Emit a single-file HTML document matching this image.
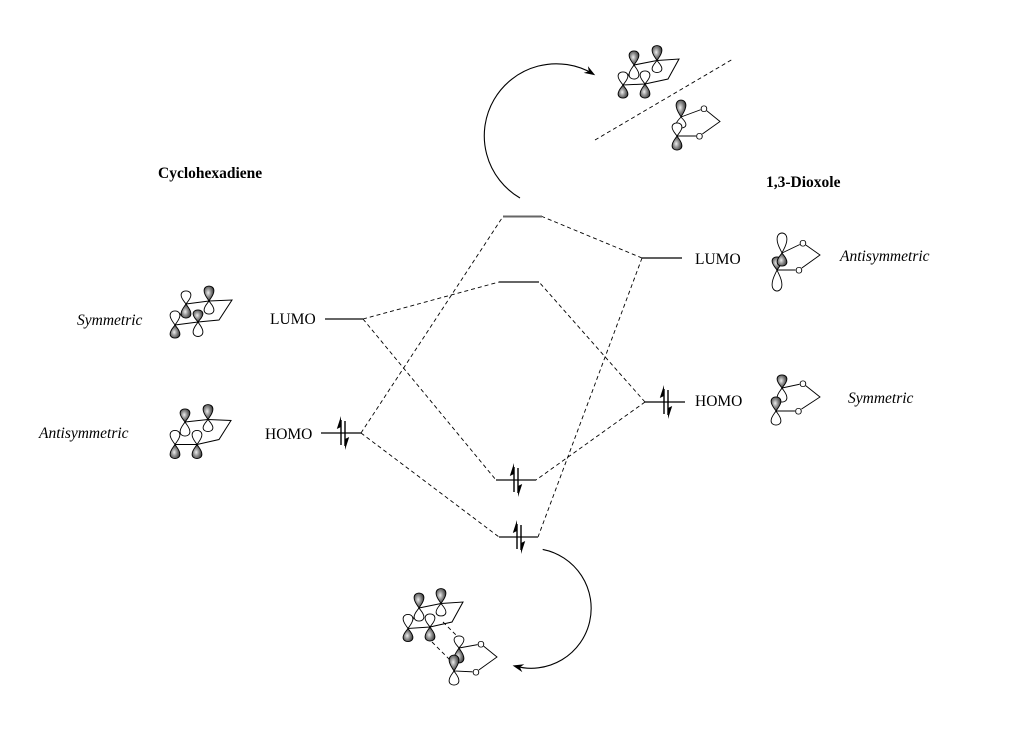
<!DOCTYPE html>
<html><head><meta charset="utf-8"><style>
html,body{margin:0;padding:0;background:#fff;}
svg{display:block;}
text{font-family:"Liberation Serif",serif;fill:#000;}
.b{font-weight:bold;font-size:15.5px;}
.i{font-style:italic;font-size:15.5px;}
.n{font-size:15.5px;}
.o{font-size:9.5px;font-family:"Liberation Sans",sans-serif;}
</style></head><body>
<svg width="1010" height="744" viewBox="0 0 1010 744" xmlns="http://www.w3.org/2000/svg">
<defs>
<radialGradient id="g" cx="0.42" cy="0.45" r="0.65">
<stop offset="0" stop-color="#eeeeee"/>
<stop offset="0.45" stop-color="#8a8a8a"/>
<stop offset="1" stop-color="#262626"/>
</radialGradient>
<path id="L" vector-effect="non-scaling-stroke" d="M0,0 C-1.8,-3 -4.9,-6 -4.9,-10 C-4.9,-12.9 -2.7,-14.5 0,-14.5 C2.7,-14.5 4.9,-12.9 4.9,-10 C4.9,-6 1.8,-3 0,0Z"/>
</defs>

<!-- Text labels -->
<text class="b" x="158" y="178">Cyclohexadiene</text>
<text class="b" x="766" y="187">1,3-Dioxole</text>
<text class="i" x="77" y="325">Symmetric</text>
<text class="i" x="39" y="438">Antisymmetric</text>
<text class="n" x="270" y="324">LUMO</text>
<text class="n" x="265" y="439">HOMO</text>
<text class="n" x="695" y="264">LUMO</text>
<text class="n" x="695" y="406">HOMO</text>
<text class="i" x="840" y="261">Antisymmetric</text>
<text class="i" x="848" y="403">Symmetric</text>

<!-- Dashed correlation lines -->
<g stroke="#000" stroke-width="0.9" stroke-dasharray="4,3" fill="none">
<line x1="363" y1="319" x2="499" y2="282"/>
<line x1="363" y1="319" x2="496" y2="480"/>
<line x1="361" y1="433" x2="503" y2="216.5"/>
<line x1="361" y1="433" x2="499" y2="537"/>
<line x1="642" y1="258" x2="542" y2="216.5"/>
<line x1="642" y1="258" x2="538" y2="537"/>
<line x1="645" y1="402" x2="539" y2="282"/>
<line x1="645" y1="402" x2="536" y2="480"/>
<line x1="595" y1="140" x2="733" y2="59"/>
<line x1="443" y1="622" x2="458" y2="637"/>
<line x1="432" y1="642" x2="452" y2="662"/>
</g>

<!-- Energy levels -->
<g stroke="#666" stroke-width="2">
<line x1="325" y1="319" x2="363" y2="319"/>
<line x1="503" y1="216.5" x2="542" y2="216.5"/>
<line x1="499" y1="282" x2="539" y2="282"/>
<line x1="496" y1="480" x2="536" y2="480"/>
<line x1="499" y1="537" x2="538" y2="537"/>
</g>
<g stroke="#000" stroke-width="1.3">
<line x1="321" y1="433" x2="361" y2="433"/>
<line x1="642" y1="258" x2="682" y2="258"/>
<line x1="645" y1="402" x2="685" y2="402"/>
</g>

<!-- Electron arrows -->
<g stroke="#000" stroke-width="1.4" fill="#000">
<line x1="341" y1="445" x2="341" y2="420"/><polygon stroke="none" points="341,416 336.8,429 341,427"/>
<line x1="345" y1="421" x2="345" y2="446"/><polygon stroke="none" points="345,450 349.2,437 345,439"/>

<line x1="664" y1="414" x2="664" y2="389"/><polygon stroke="none" points="664,385 659.8,398 664,396"/>
<line x1="668" y1="390" x2="668" y2="415"/><polygon stroke="none" points="668,419 672.2,406 668,408"/>

<line x1="514" y1="492" x2="514" y2="467"/><polygon stroke="none" points="514,463 509.8,476 514,474"/>
<line x1="518" y1="468" x2="518" y2="493"/><polygon stroke="none" points="518,497 522.2,484 518,486"/>

<line x1="517" y1="549" x2="517" y2="524"/><polygon stroke="none" points="517,520 512.8,533 517,531"/>
<line x1="521" y1="525" x2="521" y2="550"/><polygon stroke="none" points="521,554 525.2,541 521,543"/>
</g>

<!-- Curved arrows -->
<path d="M520,198 A72,72 0 1 1 592.6,73.6" fill="none" stroke="#000" stroke-width="1.1"/>
<polygon points="595.2,75.2 583.7,72.9 588.8,71.3 587.9,66.1" fill="#000"/>
<path d="M542.7,549.4 A60,60 0 1 1 515.5,666.2" fill="none" stroke="#000" stroke-width="1.1"/>
<polygon points="512.6,665.5 524.3,664.3 519.9,667.3 522.3,672.1" fill="#000"/>

<!-- Cyclohexadiene rings -->
<g stroke="#000" stroke-width="1" fill="none">
<polygon points="186,304 209,301 232,300 219,320 198,322 175,325"/>
<polygon points="185,422 208,419.5 231,420.5 219,439.5 197,444.5 175,444.5"/>
<polygon points="634,65 657,60.5 679,59 668,79 645,84 623,85"/>
<polygon points="419,608 441,603.5 463,602 452,622 430,627 408,628.5"/>
</g>

<!-- Dioxole bonds -->
<g stroke="#000" stroke-width="0.9" fill="none">
<polyline points="782,253 803,243 820,255 799,270 777,270 782,253"/>
<polyline points="782,388 803,383.5 820,397 798.5,411 776,411 782,388"/>
<polyline points="681,117 704,108.5 720,121.5 699.5,136 677,136 681,117"/>
<polyline points="459,648 481,644 497,657 476,672 454,671 459,648"/>
</g>

<!-- Orbital lobes -->
<g stroke="#000" stroke-width="0.9">
<!-- Symmetric cyclohexadiene -->
<use href="#L" fill="#fff" transform="translate(186,304) scale(1,0.9)"/>
<use href="#L" fill="url(#g)" transform="translate(186,304) scale(1,-0.97)"/>
<use href="#L" fill="url(#g)" transform="translate(209,301) scale(1,1.03)"/>
<use href="#L" fill="#fff" transform="translate(209,301) scale(1,-0.9)"/>
<use href="#L" fill="#fff" transform="translate(175,325) scale(1,0.97)"/>
<use href="#L" fill="url(#g)" transform="translate(175,325) scale(1,-0.9)"/>
<use href="#L" fill="url(#g)" transform="translate(198,322) scale(1,0.83)"/>
<use href="#L" fill="#fff" transform="translate(198,322) scale(1,-1)"/>

<!-- Antisymmetric cyclohexadiene -->
<use href="#L" fill="url(#g)" transform="translate(185,422) scale(1,0.9)"/>
<use href="#L" fill="#fff" transform="translate(185,422) scale(1,-0.97)"/>
<use href="#L" fill="url(#g)" transform="translate(208,419.5) scale(1,1.03)"/>
<use href="#L" fill="#fff" transform="translate(208,419.5) scale(1,-0.83)"/>
<use href="#L" fill="#fff" transform="translate(175,444.5) scale(1,0.97)"/>
<use href="#L" fill="url(#g)" transform="translate(175,444.5) scale(1,-0.97)"/>
<use href="#L" fill="#fff" transform="translate(197,444.5) scale(1,0.97)"/>
<use href="#L" fill="url(#g)" transform="translate(197,444.5) scale(1,-0.97)"/>

<!-- Top cyclohexadiene -->
<use href="#L" fill="url(#g)" transform="translate(634,65) scale(1,0.97)"/>
<use href="#L" fill="#fff" transform="translate(634,65) scale(1,-0.97)"/>
<use href="#L" fill="url(#g)" transform="translate(657,60.5) scale(1,1.03)"/>
<use href="#L" fill="#fff" transform="translate(657,60.5) scale(1,-0.83)"/>
<use href="#L" fill="#fff" transform="translate(623,85) scale(1,0.9)"/>
<use href="#L" fill="url(#g)" transform="translate(623,85) scale(1,-0.9)"/>
<use href="#L" fill="#fff" transform="translate(645,84) scale(1,0.9)"/>
<use href="#L" fill="url(#g)" transform="translate(645,84) scale(1,-0.97)"/>

<!-- Product cyclohexadiene -->
<use href="#L" fill="url(#g)" transform="translate(419,608) scale(1,1.03)"/>
<use href="#L" fill="#fff" transform="translate(419,608) scale(1,-0.9)"/>
<use href="#L" fill="url(#g)" transform="translate(441,603.5) scale(1,1.03)"/>
<use href="#L" fill="#fff" transform="translate(441,603.5) scale(1,-0.86)"/>
<use href="#L" fill="#fff" transform="translate(408,628.5) scale(1,0.97)"/>
<use href="#L" fill="url(#g)" transform="translate(408,628.5) scale(1,-0.9)"/>
<use href="#L" fill="#fff" transform="translate(430,627) scale(1,0.9)"/>
<use href="#L" fill="url(#g)" transform="translate(430,627) scale(1,-0.97)"/>

<!-- LUMO dioxole -->
<use href="#L" fill="#fff" transform="translate(782,253) scale(1,1.38)"/>
<use href="#L" fill="#fff" transform="translate(777,270) scale(1,-1.45)"/>
<use href="#L" fill="url(#g)" transform="translate(777,270) scale(1,0.9)"/>
<use href="#L" fill="url(#g)" transform="translate(782,253) scale(1,-0.9)"/>

<!-- HOMO dioxole -->
<use href="#L" fill="url(#g)" transform="translate(782,388) scale(1,0.9)"/>
<use href="#L" fill="#fff" transform="translate(782,388) scale(1,-0.97)"/>
<use href="#L" fill="#fff" transform="translate(776,411) scale(1,-0.97)"/>
<use href="#L" fill="url(#g)" transform="translate(776,411) scale(1,0.97)"/>

<!-- Top dioxole -->
<use href="#L" fill="url(#g)" transform="translate(681,117) scale(1,1.17)"/>
<use href="#L" fill="#fff" transform="translate(681,117) scale(1,-0.76)"/>
<use href="#L" fill="#fff" transform="translate(677,136) scale(1,0.9)"/>
<use href="#L" fill="url(#g)" transform="translate(677,136) scale(1,-0.97)"/>

<!-- Product dioxole -->
<use href="#L" fill="#fff" transform="translate(459,648) scale(1,0.83)"/>
<use href="#L" fill="url(#g)" transform="translate(459,648) scale(1,-1.03)"/>
<use href="#L" fill="#fff" transform="translate(454,671) scale(1,-0.97)"/>
<use href="#L" fill="url(#g)" transform="translate(454,671) scale(1,1.1)"/>
</g>

<!-- Oxygen atoms -->
<g fill="#fff" stroke="none">
<circle cx="803" cy="243" r="3.6"/><circle cx="799" cy="270" r="3.6"/>
<circle cx="803" cy="383.5" r="3.6"/><circle cx="798.5" cy="411" r="3.6"/>
<circle cx="704" cy="108.5" r="3.6"/><circle cx="699.5" cy="136" r="3.6"/>
<circle cx="481" cy="644" r="3.6"/><circle cx="476" cy="672" r="3.6"/>
</g>
<g text-anchor="middle">
<text class="o" x="803" y="246.4">O</text><text class="o" x="799" y="273.4">O</text>
<text class="o" x="803" y="386.9">O</text><text class="o" x="798.5" y="414.4">O</text>
<text class="o" x="704" y="111.9">O</text><text class="o" x="699.5" y="139.4">O</text>
<text class="o" x="481" y="647.4">O</text><text class="o" x="476" y="675.4">O</text>
</g>
</svg>
</body></html>
